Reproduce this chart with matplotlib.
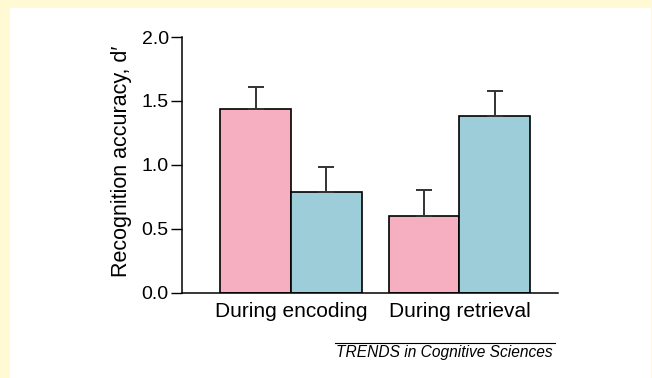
import matplotlib
matplotlib.use("Agg")
import matplotlib.pyplot as plt
from matplotlib.patches import Rectangle
from matplotlib.lines import Line2D

plt.rcParams['font.family'] = ['Liberation Sans', 'DejaVu Sans']

groups = ["During encoding", "During retrieval"]
series_names = ["Pink condition", "Blue condition"]
pink_vals = [1.44, 0.60]
blue_vals = [0.79, 1.38]
pink_err = [0.17, 0.20]
blue_err = [0.19, 0.20]
yticks = [0.0, 0.5, 1.0, 1.5, 2.0]
ylabel = "Recognition accuracy, d\u2032"
credit = "TRENDS in Cognitive Sciences"

W, H = 652, 378
fig = plt.figure(figsize=(W / 100, H / 100), dpi=100)
fig.patch.set_facecolor("#FFF9D4")
fig.patches.append(Rectangle((10 / W, 0), (651 - 10) / W, (H - 8) / H,
                             transform=fig.transFigure, facecolor="white",
                             edgecolor="none", zorder=-10))

ax = fig.add_axes([182 / W, (H - 292.7) / H, (558 - 182) / W, (292.7 - 37) / H])
ax.set_facecolor("none")
ax.set_zorder(5)

bw = 0.421
x = [0, 1]
xp = [xi - bw / 2 for xi in x]
xb = [xi + bw / 2 for xi in x]
ekw = dict(ecolor="#333333", elinewidth=1.4, capsize=5.5, capthick=1.4)
ax.bar(xp, pink_vals, bw, color="#F5AFC1", edgecolor="black", linewidth=1.2,
       yerr=[[0, 0], pink_err], error_kw=ekw, zorder=2)
ax.bar(xb, blue_vals, bw, color="#9DCDD8", edgecolor="black", linewidth=1.2,
       yerr=[[0, 0], blue_err], error_kw=ekw, zorder=2)

ax.set_xlim(-0.647, 1.585)
ax.set_ylim(0, 2.0)
ax.set_yticks(yticks)
ax.set_yticklabels([f"{t:.1f}" for t in yticks], fontsize=14)
ax.set_xticks(x)
ax.set_xticklabels(groups, fontsize=15)
ax.tick_params(axis="x", length=0, pad=6.5)
ax.tick_params(axis="y", length=8, width=1, pad=1.5)
for s in ["top", "right"]:
    ax.spines[s].set_visible(False)
for s in ["left", "bottom"]:
    ax.spines[s].set_linewidth(1.1)
ax.set_ylabel(ylabel, fontsize=15.5)
ax.yaxis.set_label_coords((132 - 182) / (558 - 182), (292.7 - 161) / (292.7 - 37))

fig.lines.append(Line2D([335 / W, 555 / W], [(H - 343) / H, (H - 343) / H],
                        transform=fig.transFigure, color="black", linewidth=0.8))
fig.text(553 / W, (H - 352) / H, credit, fontsize=11.2, style="italic",
         ha="right", va="center")

fig.savefig("out.png", dpi=100)
